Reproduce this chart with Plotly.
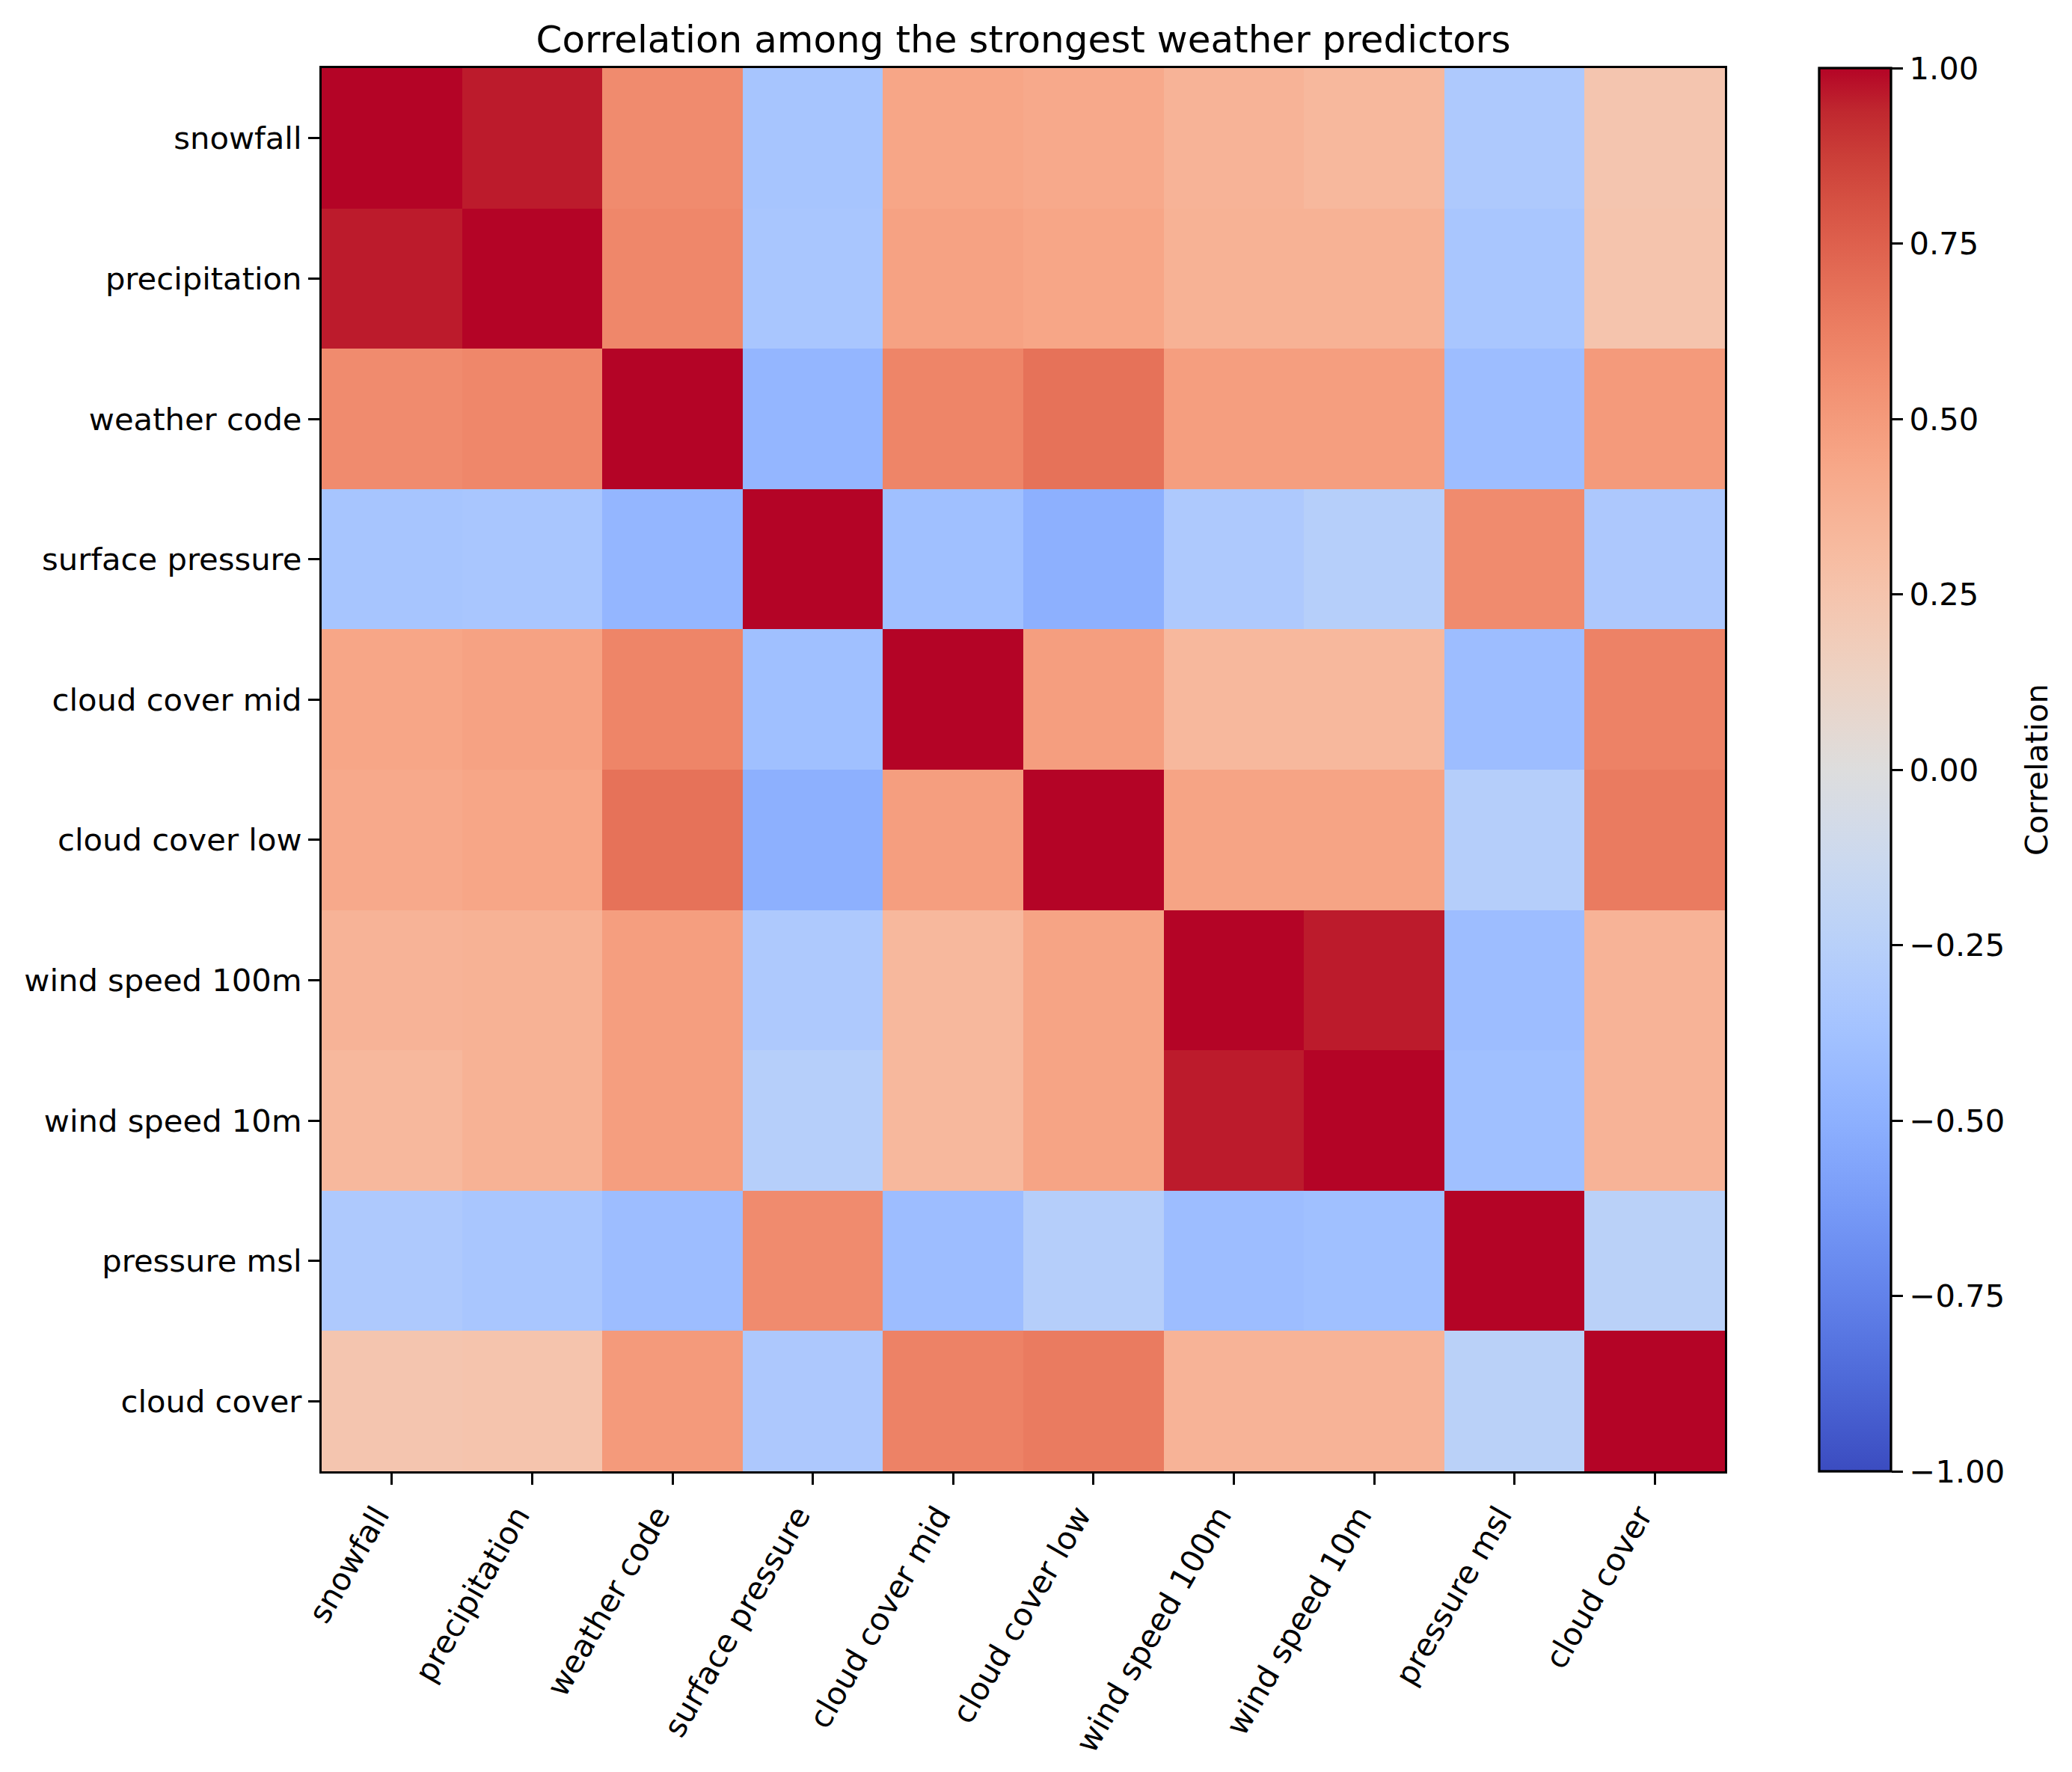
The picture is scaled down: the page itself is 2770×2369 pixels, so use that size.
import plotly.graph_objects as go

labels = ["snowfall", "precipitation", "weather code", "surface pressure",
          "cloud cover mid", "cloud cover low", "wind speed 100m",
          "wind speed 10m", "pressure msl", "cloud cover"]

row_snowfall = [1.00, 0.96, 0.57, -0.35, 0.44, 0.42, 0.36, 0.33, -0.31, 0.24]
row_precipitation = [0.96, 1.00, 0.59, -0.34, 0.46, 0.44, 0.37, 0.37, -0.34, 0.25]
row_weather_code = [0.57, 0.59, 1.00, -0.46, 0.60, 0.68, 0.48, 0.48, -0.41, 0.50]
row_surface_pressure = [-0.35, -0.34, -0.46, 1.00, -0.39, -0.50, -0.31, -0.26, 0.57, -0.32]
row_cloud_cover_mid = [0.44, 0.46, 0.60, -0.39, 1.00, 0.48, 0.33, 0.33, -0.41, 0.61]
row_cloud_cover_low = [0.42, 0.44, 0.68, -0.50, 0.48, 1.00, 0.45, 0.45, -0.27, 0.64]
row_wind_speed_100m = [0.36, 0.37, 0.48, -0.31, 0.33, 0.45, 1.00, 0.96, -0.41, 0.36]
row_wind_speed_10m = [0.33, 0.37, 0.48, -0.26, 0.33, 0.45, 0.96, 1.00, -0.39, 0.36]
row_pressure_msl = [-0.31, -0.34, -0.41, 0.57, -0.41, -0.27, -0.41, -0.39, 1.00, -0.24]
row_cloud_cover = [0.24, 0.25, 0.50, -0.32, 0.61, 0.64, 0.36, 0.36, -0.24, 1.00]

corr = [row_snowfall, row_precipitation, row_weather_code, row_surface_pressure,
        row_cloud_cover_mid, row_cloud_cover_low, row_wind_speed_100m,
        row_wind_speed_10m, row_pressure_msl, row_cloud_cover]

cbar_ticks = [-1.0, -0.75, -0.5, -0.25, 0.0, 0.25, 0.5, 0.75, 1.0]

# matplotlib "coolwarm" (Moreland) colour table
_cw = [
    (59, 76, 192), (68, 90, 204), (77, 104, 215), (87, 117, 225), (98, 130, 234),
    (108, 142, 241), (119, 154, 247), (130, 165, 251), (141, 176, 254), (152, 185, 255),
    (163, 194, 255), (174, 201, 253), (184, 208, 249), (194, 213, 244), (204, 217, 238),
    (213, 219, 230), (221, 221, 221), (229, 216, 209), (236, 211, 197), (241, 204, 185),
    (245, 196, 173), (247, 187, 160), (247, 177, 148), (247, 166, 135), (244, 154, 123),
    (241, 141, 111), (236, 127, 99), (229, 112, 88), (222, 96, 77), (213, 80, 66),
    (203, 62, 56), (192, 40, 47), (180, 4, 38)]
coolwarm = [[i / (len(_cw) - 1), "rgb(%d,%d,%d)" % c] for i, c in enumerate(_cw)]

W, H = 2770, 2369
L, R, T, B = 430, 2306, 91, 1967
FONT = "DejaVu Sans"
FS = 41.7
LW = 3.3

fig = go.Figure(go.Heatmap(
    z=corr, x=labels, y=labels, zmin=-1, zmax=1, colorscale=coolwarm,
    xgap=0, ygap=0,
    colorbar=dict(
        thickness=96, thicknessmode="pixels", len=1.0, lenmode="fraction",
        x=(2432 - L) / (R - L), xanchor="left", xpad=0,
        y=0.5, yanchor="middle", ypad=0,
        outlinewidth=LW, outlinecolor="black",
        tickvals=cbar_ticks, tickformat=".2f", ticks="outside",
        ticklen=15, tickwidth=LW, tickcolor="black",
        tickfont=dict(family=FONT, size=FS, color="black"),
    ),
))

axis_common = dict(
    showline=True, mirror=True, linecolor="black", linewidth=LW,
    ticks="outside", ticklen=15, tickwidth=LW, tickcolor="black",
    tickfont=dict(family=FONT, size=FS, color="black"),
    showgrid=False, zeroline=False,
)

fig.add_annotation(
    text="Correlation", xref="paper", yref="paper",
    x=(2722 - L) / (R - L), y=0.5, xanchor="center", yanchor="middle",
    textangle=-90, showarrow=False,
    font=dict(family=FONT, size=FS, color="black"),
)

fig.update_layout(
    width=W, height=H,
    margin=dict(l=L, r=W - R, t=T, b=H - B, pad=0),
    paper_bgcolor="white", plot_bgcolor="white",
    title=dict(text="Correlation among the strongest weather predictors",
               x=(L + R) / 2 / W, xanchor="center",
               y=1 - 70 / H, yanchor="bottom", yref="container",
               font=dict(family=FONT, size=50, color="black")),
    xaxis=dict(axis_common, tickangle=-60, type="category", ticklabelshift=-20),
    yaxis=dict(axis_common, autorange="reversed", type="category"),
)

fig.write_html("out.html")
